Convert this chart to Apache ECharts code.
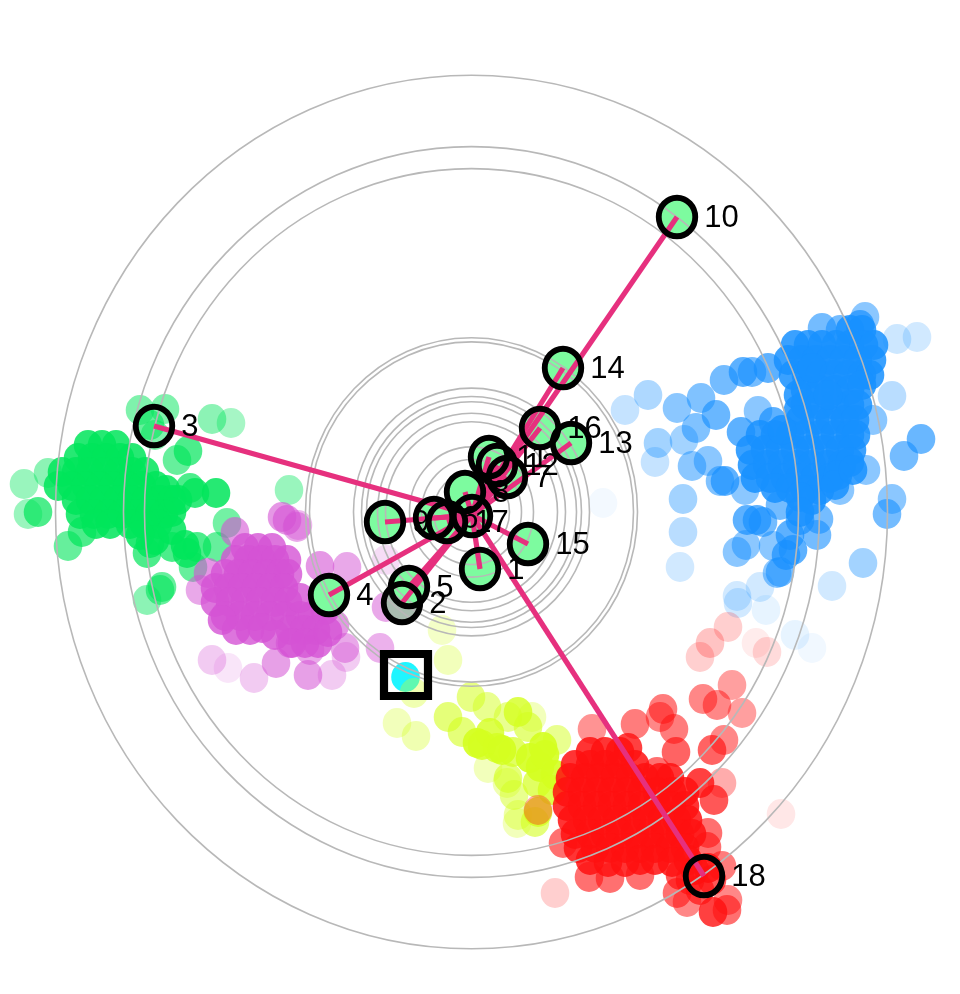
<!DOCTYPE html>
<html><head><meta charset="utf-8">
<style>html,body{margin:0;padding:0;background:#fff}#c{width:960px;height:994px}</style>
<script src="https://cdn.jsdelivr.net/npm/echarts@6/dist/echarts.min.js"></script>
</head><body><div id="c"></div>
<script>
// plot units: x 0..960, y 0..994 (downwards); each record [x, y, weight]
const blueOuter = [[917,337,.2],[897,339,.22],[892,396,.3],[921,439,.65],[904,456,.6],[892,499,.5],[887,514,.6],[863,563,.4],[832,586,.2],[865,317,.5],[860,325,.7],[822,328,.6],[840,330,.6],[724,380,.6],[743,372,.7],[752,372,.6],[768,368,.7],[648,395,.35],[625,410,.25],[677,408,.5],[701,398,.55],[716,415,.65],[696,428,.55],[684,440,.4],[658,443,.4],[655,462,.25],[692,466,.5],[708,461,.5],[720,481,.55],[725,481,.7],[683,499,.4],[683,532,.3],[680,567,.2],[758,411,.5],[773,422,.7],[741,432,.7],[737,596,.2],[760,587,.2],[737,552,.5],[746,545,.5],[773,546,.5],[747,520,.7],[757,520,.7],[763,522,.6],[793,550,.7],[780,572,.6],[777,573,.5],[817,535,.6],[819,519,.6],[790,535,.7],[800,520,.7],[786,555,.7],[603,503,.05],[766,610,.1],[795,635,.1],[812,648,.06],[738,603,.2],[745,490,.5],[780,505,.6],[840,490,.5],[866,470,.5],[873,420,.5]];
const blueCore = [[850,330],[862,330],[795,345],[808,345],[822,345],[836,345],[850,345],[864,345],[874,345],[788,360],[802,360],[816,360],[830,360],[844,360],[858,360],[872,360],[793,375],[806,375],[820,375],[834,375],[848,375],[862,375],[870,375],[805,390],[820,390],[835,390],[850,390],[862,385],[798,395],[798,410],[805,405],[820,405],[835,405],[850,405],[858,405],[800,420],[815,420],[830,420],[845,420],[855,420],[760,435],[775,435],[790,435],[805,435],[820,435],[835,435],[850,435],[856,435],[750,450],[765,450],[780,450],[795,450],[810,450],[825,450],[840,450],[852,450],[752,465],[767,465],[782,465],[797,465],[812,465],[827,465],[842,465],[850,462],[755,478],[770,478],[785,478],[800,478],[815,478],[830,478],[838,475],[775,488],[790,488],[805,490],[820,490],[812,368],[828,395],[782,430],[812,500],[800,497],[835,485],[853,470],[800,512]];
const greenOuter = [[24,484,.4],[48,473,.45],[28,514,.4],[38,512,.7],[68,546,.6],[82,532,.7],[140,410,.5],[165,409,.5],[177,460,.6],[188,451,.7],[162,587,.6],[160,590,.6],[147,600,.45],[212,419,.45],[231,423,.35],[216,493,.85],[195,493,.8],[190,488,.7],[227,523,.55],[217,547,.6],[193,567,.6],[187,553,.8],[197,547,.7],[147,553,.7],[150,543,.8],[172,547,.7],[289,490,.4],[155,435,.5],[150,425,.6]];
const greenCore = [[88,445],[102,445],[116,445],[78,458],[92,458],[106,458],[120,458],[132,458],[62,472],[76,472],[90,472],[104,472],[118,472],[132,472],[145,472],[58,486],[72,486],[86,486],[100,486],[114,486],[128,486],[142,486],[156,486],[166,490],[76,500],[90,500],[104,500],[118,500],[132,500],[146,500],[160,500],[172,500],[80,514],[94,514],[108,514],[122,514],[136,514],[150,514],[164,514],[172,512],[96,524],[110,524],[130,524],[144,524],[158,524],[140,535],[155,540],[172,530],[185,545],[178,500]];
const magentaOuter = [[212,660,.3],[228,668,.15],[254,678,.3],[276,663,.55],[308,675,.55],[332,675,.3],[346,657,.3],[345,648,.5],[380,648,.45],[386,560,.2],[386,607,.5],[413,580,.12],[347,567,.5],[320,566,.6],[282,517,.6],[297,527,.5],[287,520,.6],[235,532,.6],[200,590,.5],[208,573,.6],[290,643,.6],[298,525,.4],[310,650,.5],[335,625,.6]];
const magentaCore = [[245,548],[258,548],[272,548],[235,560],[248,560],[262,560],[275,560],[287,560],[225,574],[238,574],[252,574],[266,574],[280,574],[288,574],[215,588],[228,588],[242,588],[256,588],[270,588],[284,588],[215,602],[230,602],[245,602],[260,602],[275,602],[288,602],[225,616],[240,616],[255,616],[270,616],[285,616],[300,616],[312,616],[236,630],[250,630],[262,628],[290,630],[304,630],[316,630],[292,643],[305,643],[318,643],[300,598],[222,620],[325,610],[328,632],[275,635]];
const yellowPts = [[442,630,.25],[448,660,.3],[414,693,.35],[397,723,.3],[416,736,.35],[471,697,.55],[487,707,.5],[448,717,.6],[462,732,.6],[477,743,.9],[482,745,.8],[490,733,.8],[497,748,.8],[508,717,.5],[518,712,.8],[532,717,.3],[528,727,.6],[502,750,.9],[513,752,.7],[488,768,.3],[508,778,.6],[507,783,.35],[514,795,.5],[557,740,.5],[543,747,.9],[540,767,.9],[537,783,.7],[518,815,.4],[517,823,.3],[535,822,.6],[538,812,.8],[530,758,.9],[545,755,.9],[555,775,.9],[552,790,.8]];
const redOuter = [[728,627,.2],[710,643,.25],[700,657,.2],[767,652,.15],[756,643,.08],[732,685,.4],[703,699,.5],[717,705,.5],[742,713,.4],[663,709,.55],[635,724,.55],[674,729,.55],[676,752,.65],[592,729,.45],[724,740,.5],[712,750,.65],[722,783,.35],[714,800,.7],[700,783,.8],[781,814,.1],[555,893,.2],[589,877,.6],[610,878,.6],[640,875,.6],[677,893,.6],[687,902,.5],[713,912,.8],[727,910,.6],[728,900,.5],[708,833,.6],[707,847,.6],[563,843,.6],[628,748,.8],[657,772,.6],[538,810,.35],[660,717,.5],[680,875,.7],[695,870,.85],[708,868,.85],[712,880,.7],[700,890,.7],[690,880,.7],[722,866,.55]];
const redCore = [[590,752],[605,752],[620,752],[575,765],[590,765],[605,765],[620,765],[635,765],[570,778],[585,778],[600,778],[615,778],[630,778],[645,778],[660,778],[670,778],[567,792],[582,792],[597,792],[612,792],[627,792],[642,792],[657,792],[672,792],[685,792],[567,806],[582,806],[597,806],[612,806],[627,806],[642,806],[657,806],[672,806],[685,806],[572,820],[587,820],[602,820],[617,820],[632,820],[647,820],[662,820],[677,820],[688,820],[575,834],[590,834],[605,834],[620,834],[635,834],[650,834],[665,834],[680,834],[692,834],[595,848],[610,848],[625,848],[640,848],[655,848],[670,848],[685,848],[640,860],[655,860],[578,848],[590,860],[608,862],[625,862],[672,862],[688,860]];

const ringRadii = [416,348,327,166,162,118,110,105,94,86,62,50,38];
const ringCentre = [471.5,512];
const hub = [472,515];
const root = [405.5,677];
const nodeNames = ['1','2','3','4','5','6','7','8','9','10','11','12','13','14','15','16','17','18',''];
const nodeX = [480,402,154,329,409,434,507,465,385,677,489,497,571,563,528,540,447,704,472];
const nodeY = [569,603,426,595,587,518,477,492,522,217,457,465,443,368,544,428,522,876,516];

const ASPECT = 1.05;
const COLORS = {blue:'#1890ff',green:'#00e55a',magenta:'#d452d4',yellow:'#d4ff1f',red:'#ff1010'};
const DOT = [28.6,30];
const nodes = nodeNames.map((n,i)=>({name:n,value:[nodeX[i],nodeY[i]]}));
const unfilled = ['3','18'];

function cloud(pts,coreW,color,z){
  return {type:'scatter',z:z,symbol:'circle',symbolSize:DOT,silent:true,
    itemStyle:{color:color},
    data:pts.map(p=>({value:[p[0],p[1]],itemStyle:{opacity:p.length>2?p[2]:coreW}}))};
}
const option = {
  animation:false,backgroundColor:'#fff',
  grid:{left:0,right:0,top:0,bottom:0},
  xAxis:{type:'value',min:0,max:960,show:false},
  yAxis:{type:'value',min:0,max:994,inverse:true,show:false},
  series:[
    {type:'scatter',z:1,symbol:'circle',symbolSize:DOT,itemStyle:{color:'#1ff5ff',opacity:1},data:[root]},
    cloud(blueOuter.concat(blueCore),.85,COLORS.blue,2),
    cloud(greenOuter.concat(greenCore),.85,COLORS.green,2),
    cloud(magentaOuter.concat(magentaCore),.8,COLORS.magenta,2),
    cloud(yellowPts,.8,COLORS.yellow,2),
    cloud(redOuter.concat(redCore),.85,COLORS.red,2),
    {type:'scatter',z:3,symbol:'circle',symbolSize:[36.5,38.5],
      data:nodes.map(n=>({value:n.value,itemStyle:{opacity:1,
        color:unfilled.includes(n.name)?'rgba(0,0,0,0)':(n.name==='2'?'#a9bcb0':'#7dfb9f')}}))},
    {type:'custom',z:4,coordinateSystem:'cartesian2d',silent:true,clip:false,
      data:ringRadii.map(r=>[ringCentre[0],ringCentre[1],r]),
      encode:{x:0,y:1},
      renderItem:(p,api)=>{
        const c=api.coord([api.value(0),api.value(1)]);
        const rx=api.size([api.value(2),0])[0];
        return {type:'ellipse',shape:{cx:c[0],cy:c[1],rx:rx,ry:rx*ASPECT},
          style:{fill:null,stroke:'#b8b8b8',lineWidth:1.6}};
      }},
    {type:'lines',z:5,coordinateSystem:'cartesian2d',polyline:false,silent:true,
      lineStyle:{color:'#e6307e',width:5.2,opacity:1,curveness:0},
      data:nodes.map(n=>({coords:[hub,n.value]}))},
    {type:'scatter',z:6,symbol:'circle',symbolSize:[36.5,38.5],
      itemStyle:{color:'rgba(0,0,0,0)',borderColor:'#000',borderWidth:6,opacity:1},
      label:{show:true,position:'right',distance:6,offset:[0,1.5],formatter:'{b}',color:'#000',
        fontFamily:'Liberation Sans',fontSize:31,opacity:1},
      data:nodes},
    {type:'scatter',z:6,symbol:'rect',symbolSize:[44,42],silent:true,
      itemStyle:{color:'rgba(0,0,0,0)',borderColor:'#000',borderWidth:8,opacity:1},
      data:[[406,675]]}
  ]
};
echarts.init(document.getElementById('c'),null,{renderer:'canvas'}).setOption(option);
</script></body></html>
